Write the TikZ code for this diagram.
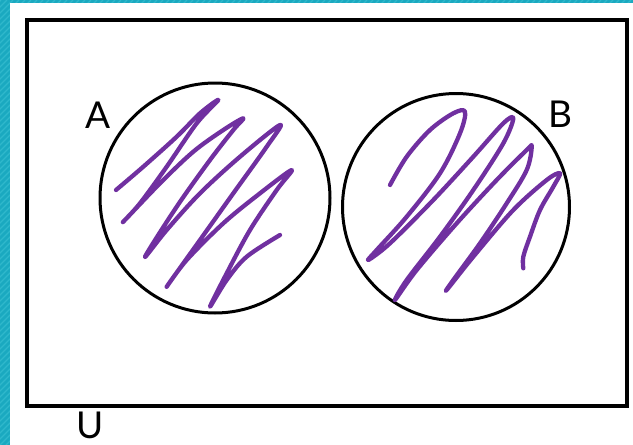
\documentclass[tikz,border=0pt]{standalone}
\usepackage{fontspec}
\setmainfont{Lato}
\definecolor{teal1}{HTML}{1AA9C0}
\definecolor{teal2}{HTML}{2FB8CC}
\definecolor{scrib}{HTML}{7030A0}
\tikzset{
  setcircle/.style={draw=black, line width=3pt},
  frame/.style={draw=black, line width=4pt},
  lbl/.style={font=\fontsize{37}{40}\selectfont, inner sep=0pt},
  scribble/.style={draw=scrib, line width=4.3pt, line cap=round, line join=round}
}
\begin{document}
\begin{tikzpicture}[x=1pt,y=-1pt]
\useasboundingbox (0,0) rectangle (633,445);
% background
\fill[teal1] (0,0) rectangle (633,445);
\begin{scope}
\clip (0,0) rectangle (633,445);
\foreach \k in {-450,-444,...,650} {
  \draw[teal2, line width=1.2pt] (\k,445) -- ++(445,-445);
}
\end{scope}
\fill[white] (10,3) rectangle (633,445);
% universe
\draw[frame] (27,20) rectangle (627,406);
\node[lbl] (U) at (90,425) {U};
% sets
\node[setcircle, circle, minimum size=230pt, inner sep=0pt] (A) at (215,198) {};
\node[setcircle, circle, minimum size=227pt, inner sep=0pt] (B) at (456,207) {};
\node[lbl] (lA) at (98,115) {A};
\node[lbl] (lB) at (560,114) {B};
% scribbles
\draw[scribble] plot[smooth, tension=0.55] coordinates {
(116,190) (143.3,166.7) (176.7,136.7) (200,113.3) (218.3,100)
(196.7,123.3) (166.7,166.7) (140,203.3) (123.3,221.7)
(160,183.3) (193.3,151.7) (223.3,130) (243.3,118.3)
(233.3,130) (210,160) (176.7,206.7) (145,256.7)
(166.7,230) (200,193.3) (240,156.7) (280,125)
(266.7,146.7) (233.3,193.3) (200,240) (166.7,286.7)
(186.7,260) (223.3,223.3) (260,193.3) (291.7,170)
(276.7,190) (250,230) (226.7,273.3) (210,306.7)
(226.7,280) (246.7,256.7) (280,235)};
\draw[scribble] plot[smooth, tension=0.55] coordinates {
(390,185) (406.7,156.7) (430,130) (453.3,113.3) (465,111.7)
(460,133.3) (440,173.3) (406.7,216.7) (376.7,250) (368.3,260)
(390,243.3) (433.3,200) (473.3,156.7) (503.3,123.3) (513.3,118.3)
(503.3,143.3) (473.3,190) (440,236.7) (406.7,280) (395,300)
(416.7,270) (456.7,223.3) (496.7,180) (526.7,150) (531.7,146.7)
(526.7,170) (506.7,203.3) (480,243.3) (453.3,280) (446.7,290)
(473.3,256.7) (513.3,210) (546.7,180) (560,173.3)
(553.3,186.7) (540,210) (530,236.7) (523.3,256.7) (523.3,268.3)};
\end{tikzpicture}
\end{document}
